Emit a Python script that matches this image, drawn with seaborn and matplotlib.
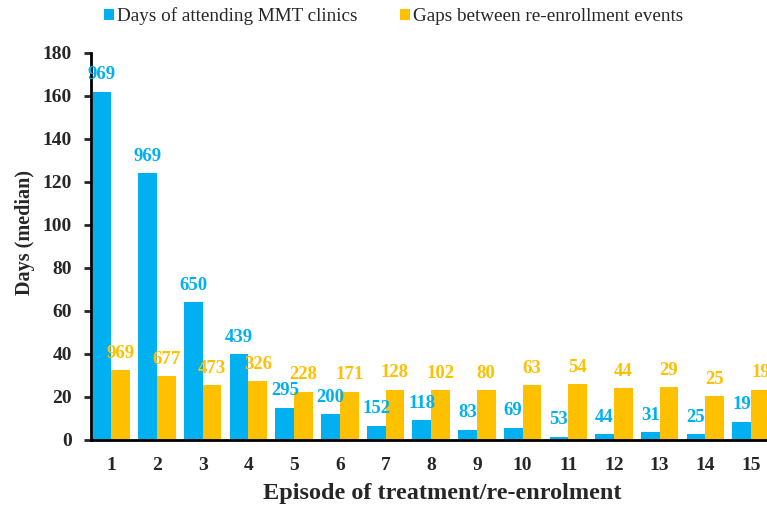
import pandas as pd
import matplotlib
matplotlib.use("Agg")
import matplotlib.pyplot as plt
import seaborn as sns

episodes = [str(i) for i in range(1, 16)]
days_attending = [162, 124, 64, 40, 15, 12, 6.7, 9.2, 4.7, 5.7, 1.5, 2.6, 3.5, 2.6, 8.5]
gaps_between = [32.3, 29.5, 25.5, 27.3, 22.5, 22.5, 23.4, 23, 23, 25.5, 26, 24, 24.5, 20.5, 23.4]
n_attending = [969, 969, 650, 439, 295, 200, 152, 118, 83, 69, 53, 44, 31, 25, 19]
n_gaps = [969, 677, 473, 326, 228, 171, 128, 102, 80, 63, 54, 44, 29, 25, 19]

series_names = ["Days of attending MMT clinics", "Gaps between re-enrollment events"]
colors = ["#00B0F0", "#FFC000"]

df = pd.concat([
    pd.DataFrame({"episode": episodes, "days": days_attending, "series": series_names[0]}),
    pd.DataFrame({"episode": episodes, "days": gaps_between, "series": series_names[1]}),
])

sns.set_style("white")
plt.rcParams["font.family"] = ["Liberation Serif", "DejaVu Serif"]

fig = plt.figure(figsize=(7.67, 5.08), dpi=100)
ax = fig.add_axes([0.119, 0.134, 0.881, 0.762])

sns.barplot(data=df, x="episode", y="days", hue="series", palette=colors,
            width=0.82, gap=0, saturation=1, linewidth=0, ax=ax, legend=True)

# counts (n) written above each bar
for cont, labels, col in zip(ax.containers, [n_attending, n_gaps], colors):
    ax.bar_label(cont, labels=[str(v) for v in labels], padding=6,
                 color=col, fontsize=13.5, fontweight="bold")

ax.set_ylim(0, 180)
ax.set_yticks(range(0, 181, 20))
ax.set_xlim(-0.44, 14.35)

for side in ["top", "right"]:
    ax.spines[side].set_visible(False)
for side in ["left", "bottom"]:
    ax.spines[side].set_color("black")
    ax.spines[side].set_linewidth(2)

ax.tick_params(axis="y", length=5, width=2, direction="out", pad=9, labelsize=14, left=True)
ax.tick_params(axis="x", length=0, pad=12, labelsize=14)
for lbl in ax.get_xticklabels() + ax.get_yticklabels():
    lbl.set_fontweight("bold")

ax.set_xlabel("Episode of treatment/re-enrolment", fontsize=17.5, fontweight="bold")
ax.set_ylabel("Days (median)", fontsize=14.5, fontweight="bold")
ax.xaxis.set_label_coords(0.519, -0.112)
ax.yaxis.set_label_coords(-0.083, 0.537)

handles, lbls = ax.get_legend_handles_labels()
ax.get_legend().remove()
fig.legend(handles, lbls, loc="center", bbox_to_anchor=(0.513, 0.968), ncol=2,
           frameon=False, fontsize=13.75, handlelength=0.52, handleheight=0.52,
           handletextpad=0.16, columnspacing=2.25)

fig.savefig("out.png", dpi=100)
